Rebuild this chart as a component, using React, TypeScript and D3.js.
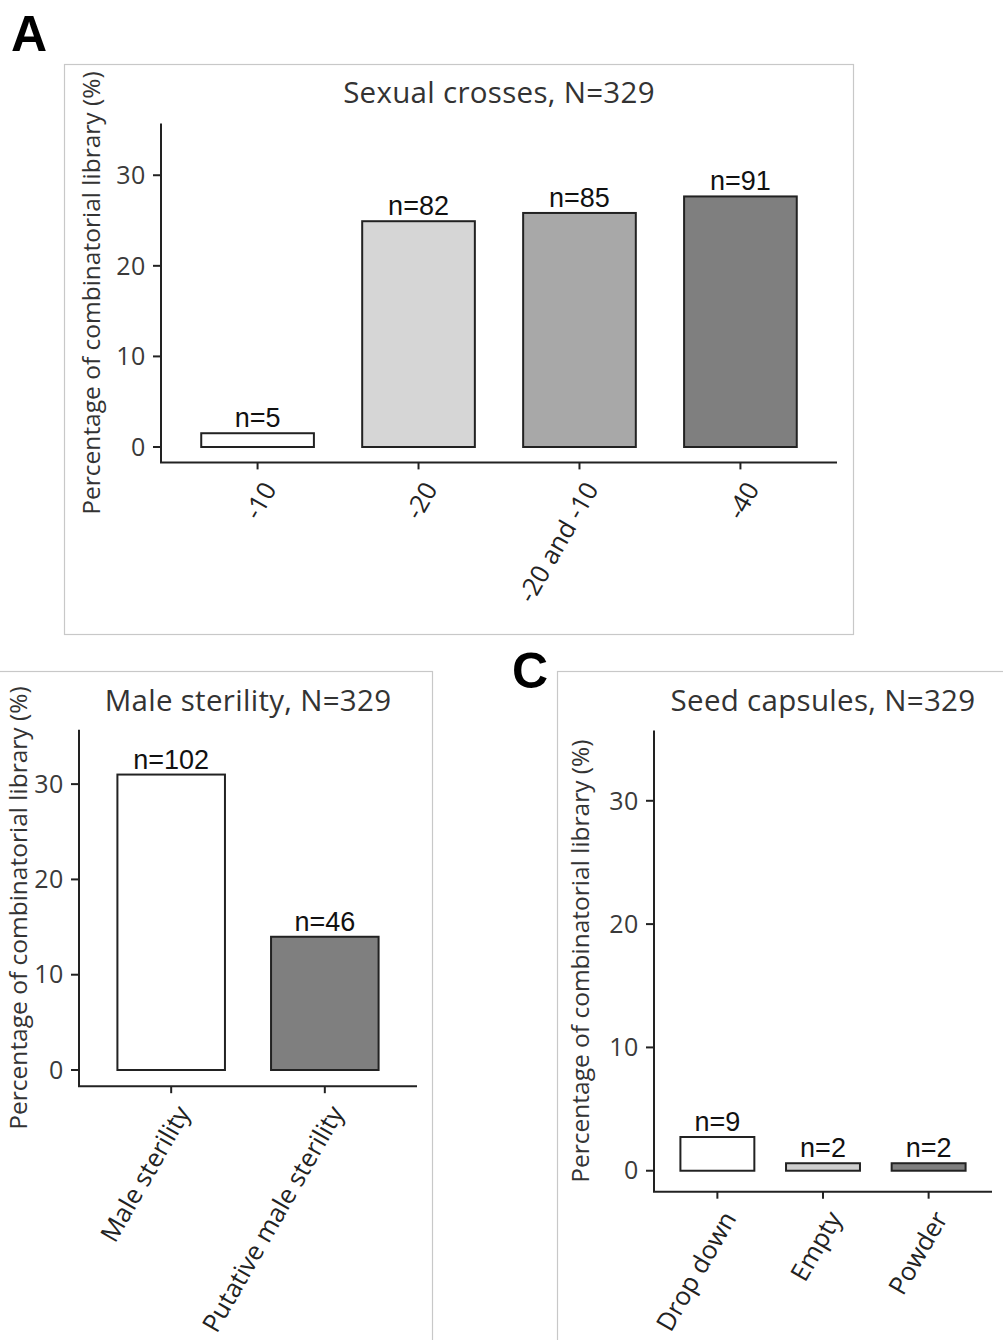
import React from "react";
import * as d3 from "d3";

// Library size shared by all three panels
const totalN = 329;

// Panel A: sexual crosses
const crossCategories = ["-10", "-20", "-20 and -10", "-40"];
const crossCounts = [5, 82, 85, 91];

// Panel B: male sterility
const sterilityCategories = ["Male sterility", "Putative male sterility"];
const sterilityCounts = [102, 46];

// Panel C: seed capsules
const capsuleCategories = ["Drop down", "Empty", "Powder"];
const capsuleCounts = [9, 2, 2];

const yTicks = [0, 10, 20, 30];
const yDomain: [number, number] = [-1.7, 35.7];

const fillsA = ["#ffffff", "#d6d6d6", "#a8a8a8", "#7f7f7f"];
const fillsB = ["#ffffff", "#7f7f7f"];
const fillsC = ["#ffffff", "#cfcfcf", "#7f7f7f"];

const SANS = "'Open Sans', 'DejaVu Sans', sans-serif";
const ARIAL = "'Liberation Sans', Arial, sans-serif";

type PanelProps = {
  title: string;
  categories: string[];
  counts: number[];
  fills: string[];
  left: number;
  right: number;
  top: number;
  bottom: number;
  titleY: number;
  yLabelX: number;
  frame: { x: number; y: number; w: number; h: number };
};

function Panel(p: PanelProps) {
  const x = d3.scalePoint<string>().domain(p.categories).range([p.left, p.right]).padding(0.6);
  const y = d3.scaleLinear().domain(yDomain).range([p.bottom, p.top]);
  const barW = x.step() * 0.7;
  const pct = p.counts.map((c) => (c / totalN) * 100);
  const cx = (p.left + p.right) / 2;
  const cy = (p.top + p.bottom) / 2;
  return (
    <g>
      <rect x={p.frame.x} y={p.frame.y} width={p.frame.w} height={p.frame.h} fill="#fff" stroke="#c8c8c8" strokeWidth={1.2} />
      <text x={cx} y={p.titleY} textAnchor="middle" fontFamily={SANS} fontSize={29.5} fill="#333" letterSpacing={0.3}>
        {p.title}
      </text>
      <text
        transform={`translate(${p.yLabelX},${cy}) rotate(-90)`}
        textAnchor="middle"
        fontFamily={SANS}
        fontSize={24.5}
        fill="#333"
      >
        Percentage of combinatorial library (%)
      </text>
      {/* bars */}
      {p.categories.map((c, i) => (
        <g key={c}>
          <rect
            x={(x(c) as number) - barW / 2}
            y={y(pct[i])}
            width={barW}
            height={y(0) - y(pct[i])}
            fill={p.fills[i]}
            stroke="#222"
            strokeWidth={2}
          />
          <text x={x(c)} y={y(pct[i]) - 6} textAnchor="middle" fontFamily={ARIAL} fontSize={27} fill="#111">
            {`n=${p.counts[i]}`}
          </text>
        </g>
      ))}
      {/* axes */}
      <line x1={p.left} x2={p.left} y1={p.top} y2={p.bottom} stroke="#222" strokeWidth={2} />
      <line x1={p.left - 1} x2={p.right} y1={p.bottom} y2={p.bottom} stroke="#222" strokeWidth={2} />
      {yTicks.map((t) => (
        <g key={t}>
          <line x1={p.left - 8} x2={p.left} y1={y(t)} y2={y(t)} stroke="#222" strokeWidth={2} />
          <text x={p.left - 15} y={y(t)} dy="0.35em" textAnchor="end" fontFamily={SANS} fontSize={25} fill="#3a3a3a" letterSpacing={0.6}>
            {t}
          </text>
        </g>
      ))}
      {p.categories.map((c) => (
        <g key={c}>
          <line x1={x(c)} x2={x(c)} y1={p.bottom} y2={p.bottom + 7} stroke="#222" strokeWidth={2} />
          <text
            transform={`translate(${(x(c) as number) + 12},${p.bottom + 22}) rotate(-60)`}
            dy="0.35em"
            textAnchor="end"
            fontFamily={SANS}
            fontSize={25.5}
            fill="#222"
          >
            {c}
          </text>
        </g>
      ))}
    </g>
  );
}

export default function App() {
  return (
    <svg width={1003} height={1340} style={{ position: "absolute", left: 0, top: 0, background: "#fff" }}>
      <rect width={1003} height={1340} fill="#fff" />
      <Panel
        title="Sexual crosses, N=329"
        categories={crossCategories}
        counts={crossCounts}
        fills={fillsA}
        left={161}
        right={837}
        top={123.6}
        bottom={462.4}
        titleY={103}
        yLabelX={100}
        frame={{ x: 64.5, y: 64.5, w: 789, h: 570 }}
      />
      <Panel
        title="Male sterility, N=329"
        categories={sterilityCategories}
        counts={sterilityCounts}
        fills={fillsB}
        left={79}
        right={417}
        top={729.8}
        bottom={1086.2}
        titleY={711}
        yLabelX={26.5}
        frame={{ x: -10, y: 671.5, w: 442.5, h: 700 }}
      />
      <Panel
        title="Seed capsules, N=329"
        categories={capsuleCategories}
        counts={capsuleCounts}
        fills={fillsC}
        left={654}
        right={992}
        top={730.5}
        bottom={1191.7}
        titleY={711}
        yLabelX={589}
        frame={{ x: 557.5, y: 671.5, w: 460, h: 700 }}
      />
      <text x={11} y={51} fontFamily={ARIAL} fontWeight="bold" fontSize={50} fill="#000">A</text>
      <text x={512} y={688} fontFamily={ARIAL} fontWeight="bold" fontSize={50} fill="#000">C</text>
    </svg>
  );
}
